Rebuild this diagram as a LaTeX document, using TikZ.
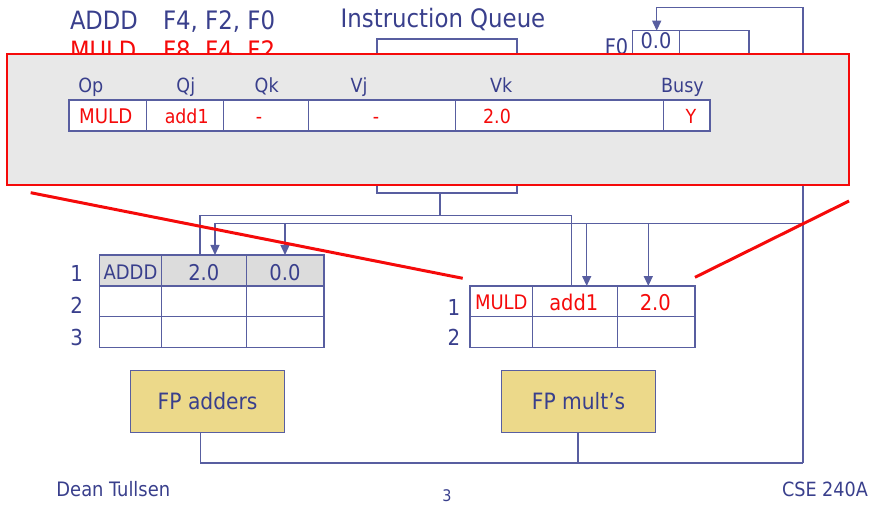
\documentclass[tikz,border=0pt]{standalone}
\usepackage{fontspec}
\setmainfont{DejaVu Sans Condensed}
\usetikzlibrary{arrows.meta}
\definecolor{tblue}{RGB}{57,63,140}
\definecolor{lblue}{RGB}{88,94,160}
\definecolor{tred}{RGB}{245,10,10}
\definecolor{ovgray}{RGB}{232,232,232}
\definecolor{cgray}{RGB}{220,220,220}
\definecolor{fpyellow}{RGB}{236,217,138}
\newcommand\mkcell[6]{\node[cellbox,#6,minimum width={(#4-#2)*1pt},minimum height={(#5-#3)*1pt}] (#1) at (#2,#3) {};}
\begin{document}
\begin{tikzpicture}[x=1pt,y=-1pt,
  every node/.style={inner sep=0pt,outer sep=0pt},
  btxt/.style={text=tblue,font=\fontsize{#1}{#1}\selectfont},
  rtxt/.style={text=tred,font=\fontsize{#1}{#1}\selectfont},
  cellbox/.style={draw=lblue,line width=1.3pt,anchor=north west,fill=white},
  bus/.style={draw=lblue,line width=1.3pt},
  arr/.style={-{Triangle[width=9pt,length=10pt]}},
  fpbox/.style={draw=lblue,fill=fpyellow,line width=1.3pt,text=tblue,font=\fontsize{22.5}{22.5}\selectfont},
  zoomline/.style={draw=tred,line width=3pt},
]
\useasboundingbox (0,0) rectangle (873,505);
% instruction list
\node[btxt=25.2,anchor=base west] (i1op) at (70,29.3) {ADDD};
\node[btxt=25.4,anchor=base west] (i1ar) at (163,29.3) {F4, F2, F0};
\node[rtxt=25.2,anchor=base west] (i2op) at (70,60) {MULD};
\node[rtxt=25.4,anchor=base west] (i2ar) at (163,60) {F8, F4, F2};
\node[btxt=25.4,anchor=base] (iqlab) at (443,28) {Instruction Queue};
\mkcell{iq}{377}{39}{517}{193}{}
% F0 register
\mkcell{f0a}{632.7}{30.7}{679.3}{62}{}
\mkcell{f0b}{679.3}{30.7}{749}{62}{}
\node[btxt=21.5,anchor=base] (f0v) at (656,49) {0.0};
\node[btxt=21.5,anchor=base] (f0l) at (616.5,54.5) {F0};
% adder reservation stations
\mkcell{a11}{99.3}{255}{161.7}{286}{fill=cgray}
\mkcell{a12}{161.7}{255}{246.7}{286}{fill=cgray}
\mkcell{a13}{246.7}{255}{324}{286}{fill=cgray}
\mkcell{a21}{99.3}{286}{161.7}{316.7}{}
\mkcell{a22}{161.7}{286}{246.7}{316.7}{}
\mkcell{a23}{246.7}{286}{324}{316.7}{}
\mkcell{a31}{99.3}{316.7}{161.7}{347.3}{}
\mkcell{a32}{161.7}{316.7}{246.7}{347.3}{}
\mkcell{a33}{246.7}{316.7}{324}{347.3}{}
\node[btxt=20,anchor=base] (a11t) at (130.5,279.3) {ADDD};
\node[btxt=21.7,anchor=base] (a12t) at (203.8,280) {2.0};
\node[btxt=21.7,anchor=base] (a13t) at (285,280) {0.0};
\node[btxt=22,anchor=base] (al1) at (76.7,281.7) {1};
\node[btxt=22,anchor=base] (al2) at (76.7,313.3) {2};
\node[btxt=22,anchor=base] (al3) at (76.7,345) {3};
% mult reservation stations
\mkcell{m11}{470}{286}{532.7}{316.7}{}
\mkcell{m12}{532.7}{286}{617.7}{316.7}{}
\mkcell{m13}{617.7}{286}{695}{316.7}{}
\mkcell{m21}{470}{316.7}{532.7}{347.3}{}
\mkcell{m22}{532.7}{316.7}{617.7}{347.3}{}
\mkcell{m23}{617.7}{316.7}{695}{347.3}{}
\node[rtxt=20,anchor=base] (m11t) at (501.3,309.3) {MULD};
\node[rtxt=21.6,anchor=base] (m12t) at (573.8,310.7) {add1};
\node[rtxt=21.7,anchor=base] (m13t) at (655.3,310.7) {2.0};
\node[btxt=22,anchor=base] (ml1) at (454,315) {1};
\node[btxt=22,anchor=base] (ml2) at (454,345) {2};
% functional units
\node[fpbox,minimum width=154pt,minimum height=61.6pt] (fpa) at (207.6,401.5) {FP adders};
\node[fpbox,minimum width=154pt,minimum height=61.6pt] (fpm) at (578.6,401.5) {FP mult’s};
% coordinates of buses
\coordinate (tr) at (803,7.3);
\coordinate (tl) at (656.7,7.3);
\coordinate (br) at (803,463);
\coordinate (fa) at (200.5,463);
\coordinate (fm) at (578,463);
\coordinate (qj) at (440,215.5);
\coordinate (qa) at (200,215.5);
\coordinate (qm) at (571.7,215.5);
\coordinate (cl) at (215,223.3);
\coordinate (c2) at (285,223.3);
\coordinate (c3) at (586.7,223.3);
\coordinate (c4) at (648.3,223.3);
\coordinate (cr) at (803,223.3);
% buses
\draw[bus] (fpa.south -| fa) -- (fa) -- (br);
\draw[bus] (fpm.south -| fm) -- (fm);
\draw[bus,arr] (br) -- (tr) -- (tl) -- (tl |- f0a.north);
\draw[bus] (qj |- iq.south) -- (qj);
\draw[bus] (qa |- a12.north) -- (qa) -- (qm) -- (qm |- m12.north);
\draw[bus] (cl) -- (cr);
\draw[bus,arr] (cl) -- (cl |- a12.north);
\draw[bus,arr] (c2) -- (c2 |- a13.north);
\draw[bus,arr] (c3) -- (c3 |- m12.north);
\draw[bus,arr] (c4) -- (c4 |- m13.north);
% footer
\node[btxt=19.9,anchor=base] (foot1) at (113.3,496) {Dean Tullsen};
\node[btxt=16,anchor=base] (foot2) at (447,501.7) {3};
\node[btxt=19.6,anchor=base] (foot3) at (825,496.7) {CSE 240A};
% zoom overlay
\node[draw=tred,fill=ovgray,line width=1.2pt,anchor=north west,minimum width=842pt,minimum height=131pt] (ov) at (7,54) {};
\mkcell{o1}{69}{100}{146.7}{131}{}
\mkcell{o2}{146.7}{100}{223.7}{131}{}
\mkcell{o3}{223.7}{100}{308.7}{131}{}
\mkcell{o4}{308.7}{100}{455.3}{131}{}
\mkcell{o5}{455.3}{100}{663.7}{131}{}
\mkcell{o6}{663.7}{100}{710}{131}{}
\node[btxt=19.5,anchor=base] (h1) at (90.8,92.7) {Op};
\node[btxt=19.5,anchor=base] (h2) at (185.8,92.7) {Qj};
\node[btxt=19.5,anchor=base] (h3) at (266.7,92.7) {Qk};
\node[btxt=19.5,anchor=base] (h4) at (359,92.7) {Vj};
\node[btxt=19.5,anchor=base] (h5) at (501.3,92.7) {Vk};
\node[btxt=19.5,anchor=base] (h6) at (682.5,92.7) {Busy};
\node[rtxt=20.2,anchor=base] (o1t) at (105.7,123.3) {MULD};
\node[rtxt=19.3,anchor=base] (o2t) at (186.7,123.3) {add1};
\node[rtxt=19.4,anchor=base] (o3t) at (259,123.3) {-};
\node[rtxt=19.4,anchor=base] (o4t) at (376,123.3) {-};
\node[rtxt=19.4,anchor=base] (o5t) at (497,123.3) {2.0};
\node[rtxt=19.4,anchor=base] (o6t) at (691,123.3) {Y};
% zoom lines
\coordinate (zl1) at (30.7,192.7);
\coordinate (zl2) at (462.7,278.3);
\coordinate (zr1) at (695,277.3);
\coordinate (zr2) at (849,201);
\draw[zoomline] (zl1) -- (zl2);
\draw[zoomline] (zr1) -- (zr2);
\end{tikzpicture}
\end{document}
